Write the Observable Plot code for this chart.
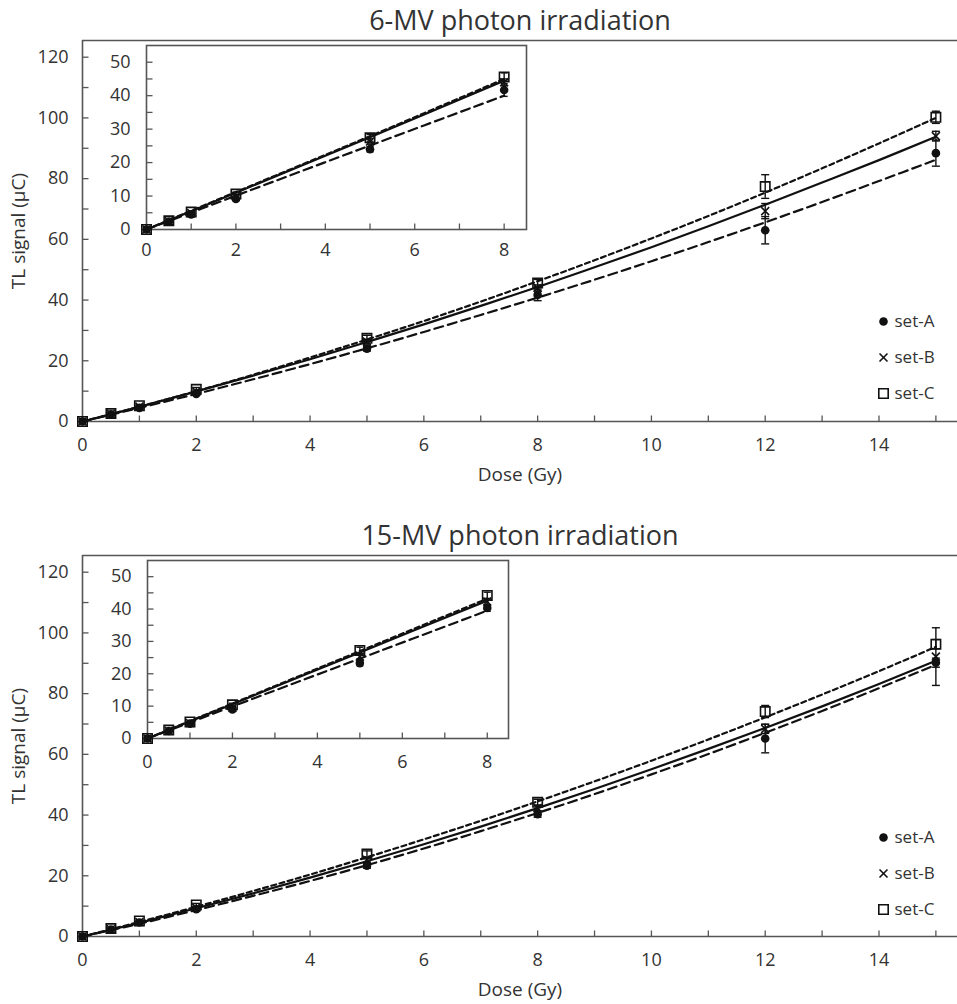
<!DOCTYPE html>
<html><head><meta charset="utf-8">
<script src="https://cdn.jsdelivr.net/npm/d3@7"></script>
<script src="https://cdn.jsdelivr.net/npm/@observablehq/plot@0.6"></script>
<style>
body{margin:0;background:#fff;}
#root{position:relative;width:957px;height:1004px;overflow:hidden;background:#fff;}
#root svg{position:absolute;overflow:visible;}
</style></head><body><div id="root"></div>
<script>
// ---------- data ----------
const doses = [0, 0.5, 1, 2, 5, 8, 12, 15];
const insetDoseCount = 6; // the inset shows the first six doses (0–8 Gy)

// 6-MV photon irradiation
const mv6SetA = [0, 2.4, 4.5, 9.1, 24.0, 41.7, 63.0, 88.4];
const mv6SetB = [0, 2.5, 4.9, 9.9, 26.3, 44.0, 69.3, 94.0];
const mv6SetC = [0, 2.6, 5.2, 10.6, 27.4, 45.6, 77.4, 100.2];
const mv6ErrA = [0, 0.2, 0.3, 0.5, 0.8, 1.9, 4.5, 4.3];
const mv6ErrB = [0, 0.2, 0.3, 0.5, 0.8, 1.0, 2.5, 1.6];
const mv6ErrC = [0, 0.2, 0.3, 0.6, 1.0, 1.2, 3.9, 2.0];

// 15-MV photon irradiation
const mv15SetA = [0, 2.3, 4.6, 9.0, 23.3, 40.3, 65.2, 90.2];
const mv15SetB = [0, 2.4, 4.8, 9.5, 25.3, 42.3, 68.4, 92.2];
const mv15SetC = [0, 2.6, 5.1, 10.4, 27.2, 44.2, 74.1, 96.3];
const mv15ErrA = [0, 0.2, 0.3, 0.4, 0.8, 1.0, 4.7, 1.5];
const mv15ErrB = [0, 0.2, 0.3, 0.4, 0.8, 1.0, 1.5, 9.5];
const mv15ErrC = [0, 0.2, 0.3, 0.5, 1.0, 1.0, 2.0, 1.5];

// fitted curves
const fitDoses = [0, 1, 2, 3, 4, 5, 6, 7, 8, 9, 10, 11, 12, 13, 14, 15];
const mv6FitA = [0, 4.5, 9.1, 13.9, 18.9, 24.1, 29.5, 35.1, 40.8, 46.7, 52.8, 59.1, 65.6, 72.3, 79.2, 86.2];
const mv6FitB = [0, 4.8, 9.9, 15.1, 20.5, 26.2, 32.0, 38.1, 44.3, 50.8, 57.4, 64.3, 71.4, 78.7, 86.1, 93.8];
const mv6FitC = [0, 4.9, 10.0, 15.4, 21.1, 27.0, 33.1, 39.5, 46.2, 53.1, 60.3, 67.7, 75.4, 83.4, 91.6, 100.0];
const mv15FitA = [0, 4.2, 8.7, 13.4, 18.3, 23.5, 29.0, 34.7, 40.7, 46.9, 53.4, 60.1, 67.1, 74.3, 81.8, 89.5];
const mv15FitB = [0, 4.5, 9.3, 14.2, 19.4, 24.8, 30.4, 36.2, 42.3, 48.6, 55.1, 61.8, 68.7, 75.8, 83.2, 90.8];
const mv15FitC = [0, 4.8, 9.8, 15.0, 20.4, 26.1, 32.0, 38.1, 44.5, 51.1, 57.9, 64.9, 72.2, 79.7, 87.4, 95.4];

// fitted lines in the insets
const insetFitDoses = [0, 2, 5, 8];
const mv6InsetFitA = [0, 10.1, 25.1, 40.0];
const mv6InsetFitB = [0, 11.0, 27.6, 44.5];
const mv6InsetFitC = [0, 11.2, 27.9, 45.0];
const mv15InsetFitA = [0, 9.9, 24.7, 39.5];
const mv15InsetFitB = [0, 10.6, 26.6, 42.6];
const mv15InsetFitC = [0, 10.8, 27.0, 43.2];

// titles, labels, ticks
const titles = ["6-MV photon irradiation", "15-MV photon irradiation"];
const legendLabels = ["set-A", "set-B", "set-C"];
const xAxisTitle = "Dose (Gy)";
const yAxisTitle = "TL signal (μC)";
const mainXTicks = [0, 2, 4, 6, 8, 10, 12, 14];
const mainXMinor = [1, 2, 3, 4, 5, 6, 7, 8, 9, 10, 11, 12, 13, 14, 15];
const mainYTicks = [0, 20, 40, 60, 80, 100, 120];
const mainYMinor = [10, 20, 30, 40, 50, 60, 70, 80, 90, 100, 110, 120];
const insetXTicks = [0, 2, 4, 6, 8];
const insetXMinor = [1, 2, 3, 4, 5, 6, 7, 8];
const insetYTicks = [0, 10, 20, 30, 40, 50];
const insetYMinor = [5, 10, 15, 20, 25, 30, 35, 40, 45, 50];

// ---------- drawing ----------
const FONT = '"Open Sans", "DejaVu Sans", sans-serif';
const TEXT = "#333333";
const AXIS = "#555555";
const INK = "#111111";

const hLine = {draw(ctx, size) { const r = Math.sqrt(size / Math.PI); ctx.moveTo(-r, 0); ctx.lineTo(r, 0); }};
const vLine = {draw(ctx, size) { const r = Math.sqrt(size / Math.PI); ctx.moveTo(0, -r); ctx.lineTo(0, r); }};

const setStyles = [
  {symbol: "circle", r: 4.3, fill: INK, stroke: "none", dash: "9,5"},
  {symbol: "times", r: 3.7, fill: "none", stroke: INK, dash: null},
  {symbol: "square", r: 5.3, fill: "none", stroke: INK, dash: "5,3.5"}
];

function rows(xs, vs, es) {
  return vs.map((v, i) => ({dose: xs[i], v, e: es ? es[i] : 0}));
}

function seriesMarks(pointSets, fitSets, fitXs, capR) {
  const marks = [];
  fitSets.forEach((f, i) => {
    marks.push(Plot.line(rows(fitXs, f), {x: "dose", y: "v", stroke: INK, strokeWidth: 2.2,
      strokeDasharray: setStyles[i].dash, curve: "catmull-rom"}));
  });
  pointSets.forEach((p) => {
    const withErr = p.filter(d => d.e > 0);
    marks.push(Plot.ruleX(withErr, {x: "dose", y1: d => d.v - d.e, y2: d => d.v + d.e, stroke: INK, strokeWidth: 1.4}));
    marks.push(Plot.dot(withErr, {x: "dose", y: d => d.v + d.e, symbol: hLine, r: capR, stroke: INK, fill: "none", strokeWidth: 1.4}));
    marks.push(Plot.dot(withErr, {x: "dose", y: d => d.v - d.e, symbol: hLine, r: capR, stroke: INK, fill: "none", strokeWidth: 1.4}));
  });
  pointSets.forEach((p, i) => {
    const s = setStyles[i];
    marks.push(Plot.dot(p, {x: "dose", y: "v", symbol: s.symbol, r: s.r, fill: s.fill, stroke: s.stroke, strokeWidth: 1.6}));
  });
  return marks;
}

function mainPanel(cfg) {
  const yMax = 125.5;
  const pts = [
    rows(doses, cfg.A, cfg.eA), rows(doses, cfg.B, cfg.eB), rows(doses, cfg.C, cfg.eC)
  ];
  const legend = setStyles.flatMap((s, i) => [
    Plot.dot([legendLabels[i]], {frameAnchor: "bottom-right", dx: -74, dy: cfg.legendDy[i], symbol: s.symbol,
      r: s.r, fill: s.fill, stroke: s.stroke, strokeWidth: 1.6}),
    Plot.text([legendLabels[i]], {frameAnchor: "bottom-right", dx: -63, dy: cfg.legendDy[i], textAnchor: "start",
      lineAnchor: "middle", fontSize: 17, fill: TEXT})
  ]);
  const svg = Plot.plot({
    width: 957, height: cfg.height,
    marginLeft: 82, marginRight: 0, marginTop: 40, marginBottom: cfg.height - 421,
    x: {domain: [0, 15.38]},
    y: {domain: [0, yMax]},
    style: {fontFamily: FONT, fontSize: "18px", color: TEXT, background: "transparent"},
    marks: [
      Plot.ruleY([yMax], {stroke: AXIS, strokeWidth: 1.6}),
      Plot.ruleX([0], {stroke: AXIS, strokeWidth: 1.6}),
      Plot.ruleY([0], {stroke: AXIS, strokeWidth: 1.6}),
      Plot.dot(mainXMinor, {x: d => d, frameAnchor: "bottom", symbol: vLine, r: 3, dy: -3, stroke: AXIS, fill: "none", strokeWidth: 1.3}),
      Plot.dot(mainYMinor, {y: d => d, frameAnchor: "left", symbol: hLine, r: 3, dx: 3, stroke: AXIS, fill: "none", strokeWidth: 1.3}),
      Plot.axisX(mainXTicks, {tickSize: 0, tickPadding: 17, label: null, fill: TEXT}),
      Plot.axisY(mainYTicks, {tickSize: 0, tickPadding: 14, label: null, fill: TEXT}),
      ...seriesMarks(pts, [cfg.fitA, cfg.fitB, cfg.fitC], fitDoses, 4),
      ...legend,
      Plot.text([cfg.title], {frameAnchor: "top", dy: -19, lineAnchor: "middle", textAnchor: "middle", fontSize: 27, fill: TEXT}),
      Plot.text([xAxisTitle], {frameAnchor: "bottom", dy: 53, lineAnchor: "middle", textAnchor: "middle", fontSize: 19, fill: TEXT}),
      Plot.text([yAxisTitle], {frameAnchor: "left", dx: -64, rotate: -90, lineAnchor: "middle", textAnchor: "middle", fontSize: 19, fill: TEXT})
    ]
  });
  svg.style.left = "0px";
  svg.style.top = cfg.top + "px";
  return svg;
}

function insetPanel(cfg) {
  const n = insetDoseCount;
  const pts = [
    rows(doses.slice(0, n), cfg.A.slice(0, n), cfg.eA.slice(0, n)),
    rows(doses.slice(0, n), cfg.B.slice(0, n), cfg.eB.slice(0, n)),
    rows(doses.slice(0, n), cfg.C.slice(0, n), cfg.eC.slice(0, n))
  ];
  const svg = Plot.plot({
    width: cfg.marginLeft + cfg.frameW + 4, height: 10 + cfg.frameH + 40,
    marginLeft: cfg.marginLeft, marginRight: 4, marginTop: 10, marginBottom: 40,
    x: {domain: [0, 8.5]},
    y: {domain: [0, 55]},
    style: {fontFamily: FONT, fontSize: "18px", color: TEXT, background: "transparent"},
    marks: [
      Plot.frame({fill: "white", stroke: AXIS, strokeWidth: 1.6}),
      Plot.dot(insetXMinor, {x: d => d, frameAnchor: "bottom", symbol: vLine, r: 3, dy: -3, stroke: AXIS, fill: "none", strokeWidth: 1.3}),
      Plot.dot(insetYMinor, {y: d => d, frameAnchor: "left", symbol: hLine, r: 3, dx: 3, stroke: AXIS, fill: "none", strokeWidth: 1.3}),
      Plot.axisX(insetXTicks, {tickSize: 0, tickPadding: cfg.xPad, label: null, fill: TEXT}),
      Plot.axisY(insetYTicks, {tickSize: 0, tickPadding: 16, label: null, fill: TEXT}),
      ...seriesMarks(pts, [cfg.fitA, cfg.fitB, cfg.fitC], insetFitDoses, 3.5)
    ]
  });
  svg.style.left = cfg.left + "px";
  svg.style.top = cfg.top + "px";
  return svg;
}

const root = document.getElementById("root");
root.appendChild(mainPanel({
  title: titles[0], top: 0, height: 515,
  A: mv6SetA, B: mv6SetB, C: mv6SetC, eA: mv6ErrA, eB: mv6ErrB, eC: mv6ErrC,
  fitA: mv6FitA, fitB: mv6FitB, fitC: mv6FitC, legendDy: [-100, -64, -28]
}));
root.appendChild(mainPanel({
  title: titles[1], top: 515, height: 489,
  A: mv15SetA, B: mv15SetB, C: mv15SetC, eA: mv15ErrA, eB: mv15ErrB, eC: mv15ErrC,
  fitA: mv15FitA, fitB: mv15FitB, fitC: mv15FitC, legendDy: [-99, -63, -27]
}));
root.appendChild(insetPanel({
  left: 100, top: 35, marginLeft: 46, frameW: 380, frameH: 184, xPad: 14,
  A: mv6SetA, B: mv6SetB, C: mv6SetC, eA: mv6ErrA, eB: mv6ErrB, eC: mv6ErrC,
  fitA: mv6InsetFitA, fitB: mv6InsetFitB, fitC: mv6InsetFitC
}));
root.appendChild(insetPanel({
  left: 100, top: 550, marginLeft: 47, frameW: 361, frameH: 178, xPad: 17,
  A: mv15SetA, B: mv15SetB, C: mv15SetC, eA: mv15ErrA, eB: mv15ErrB, eC: mv15ErrC,
  fitA: mv15InsetFitA, fitB: mv15InsetFitB, fitC: mv15InsetFitC
}));
</script>
</body></html>
